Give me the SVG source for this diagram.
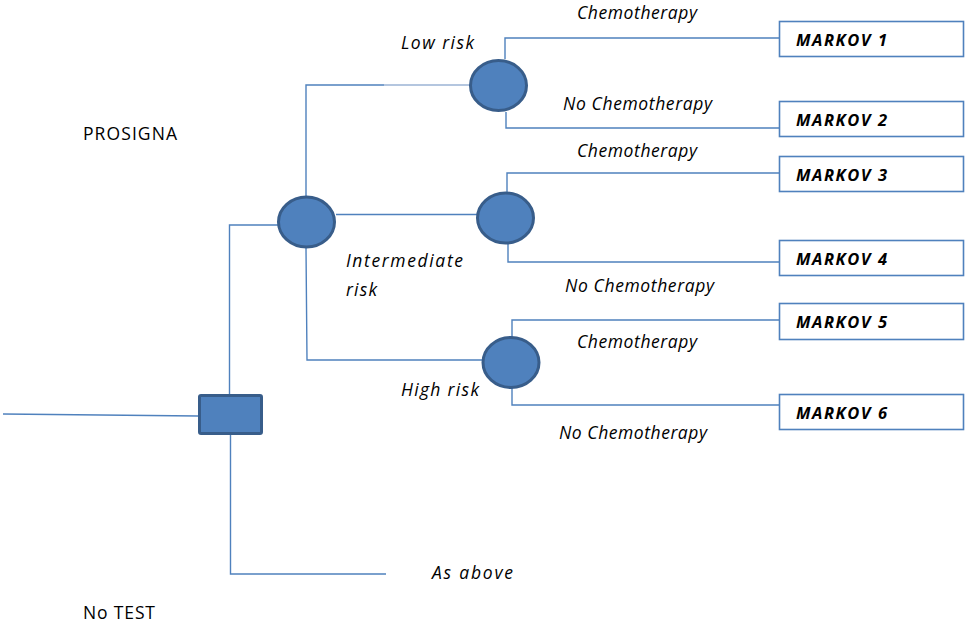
<svg xmlns="http://www.w3.org/2000/svg" width="965" height="624" viewBox="0 0 965 624">
<style>
.ln{fill:none;stroke:#4f81bd;stroke-width:1.4}
.lt{fill:none;stroke:#9bb3d4;stroke-width:1.4}
.ch{fill:#4f81bd;stroke:#385d8a;stroke-width:3}
.mk{fill:#fff;stroke:#4f81bd;stroke-width:1.6}
.t{font-family:"Open Sans","Liberation Sans",Arial,sans-serif;font-size:17.5px;fill:#000}
.i{font-style:italic}
.b{font-weight:bold;font-style:italic;font-size:16.5px}
</style>
<rect width="965" height="624" fill="#fff"/>
<g id="connectors">
<path class="ln" d="M3 414 L198 416"/>
<path class="ln" d="M229.5 394 V225 H278"/>
<path class="ln" d="M230.5 435 V574 H386"/>
<path class="ln" d="M306 196 V85 H384"/>
<path class="lt" d="M384 85 H470"/>
<path class="ln" d="M336 214.5 H477"/>
<path class="ln" d="M306 248 L307 360 H482"/>
<path class="ln" d="M505 59 V38 H779"/>
<path class="ln" d="M506 112 V128 H779"/>
<path class="ln" d="M507 192 V173 H779"/>
<path class="ln" d="M508 244 V262 H779"/>
<path class="ln" d="M512 337 V320 H779"/>
<path class="ln" d="M512 388 V405 H779"/>
</g>
<g id="decision"><rect class="ch" x="199.5" y="395.5" width="62" height="38" rx="1.5"/></g>
<g id="chance-prosigna"><ellipse class="ch" cx="306.5" cy="222" rx="28" ry="25"/></g>
<g id="chance-low"><ellipse class="ch" cx="498.5" cy="85.5" rx="28" ry="25"/></g>
<g id="chance-intermediate"><ellipse class="ch" cx="505.5" cy="218" rx="28" ry="25"/></g>
<g id="chance-high"><ellipse class="ch" cx="511" cy="362.5" rx="28" ry="25"/></g>
<g id="markov1"><rect class="mk" x="779.5" y="21.5" width="184" height="35"/><text class="t b" x="796" y="46" textLength="91">MARKOV 1</text></g>
<g id="markov2"><rect class="mk" x="779.5" y="101.5" width="184" height="35"/><text class="t b" x="796" y="126" textLength="91">MARKOV 2</text></g>
<g id="markov3"><rect class="mk" x="779.5" y="156.5" width="184" height="35"/><text class="t b" x="796" y="181" textLength="91">MARKOV 3</text></g>
<g id="markov4"><rect class="mk" x="779.5" y="240.5" width="184" height="35"/><text class="t b" x="796" y="265" textLength="91">MARKOV 4</text></g>
<g id="markov5"><rect class="mk" x="779.5" y="303.5" width="184" height="36"/><text class="t b" x="796" y="328" textLength="91">MARKOV 5</text></g>
<g id="markov6"><rect class="mk" x="779.5" y="394.5" width="184" height="35"/><text class="t b" x="796" y="419" textLength="91">MARKOV 6</text></g>
<g id="labels">
<text class="t" x="83" y="140" textLength="94">PROSIGNA</text>
<text class="t" x="83" y="619" textLength="72">No TEST</text>
<text class="t i" x="401" y="49" textLength="73">Low risk</text>
<text class="t i" x="346" y="267" textLength="117">Intermediate</text>
<text class="t i" x="346" y="296" textLength="31">risk</text>
<text class="t i" x="401" y="396" textLength="78">High risk</text>
<text class="t i" x="432" y="579" textLength="81">As above</text>
<text class="t i" x="577" y="19" textLength="120">Chemotherapy</text>
<text class="t i" x="563" y="110" textLength="149">No Chemotherapy</text>
<text class="t i" x="577" y="157" textLength="120">Chemotherapy</text>
<text class="t i" x="565" y="292" textLength="149">No Chemotherapy</text>
<text class="t i" x="577" y="348" textLength="120">Chemotherapy</text>
<text class="t i" x="559" y="439" textLength="148">No Chemotherapy</text>
</g>
</svg>
